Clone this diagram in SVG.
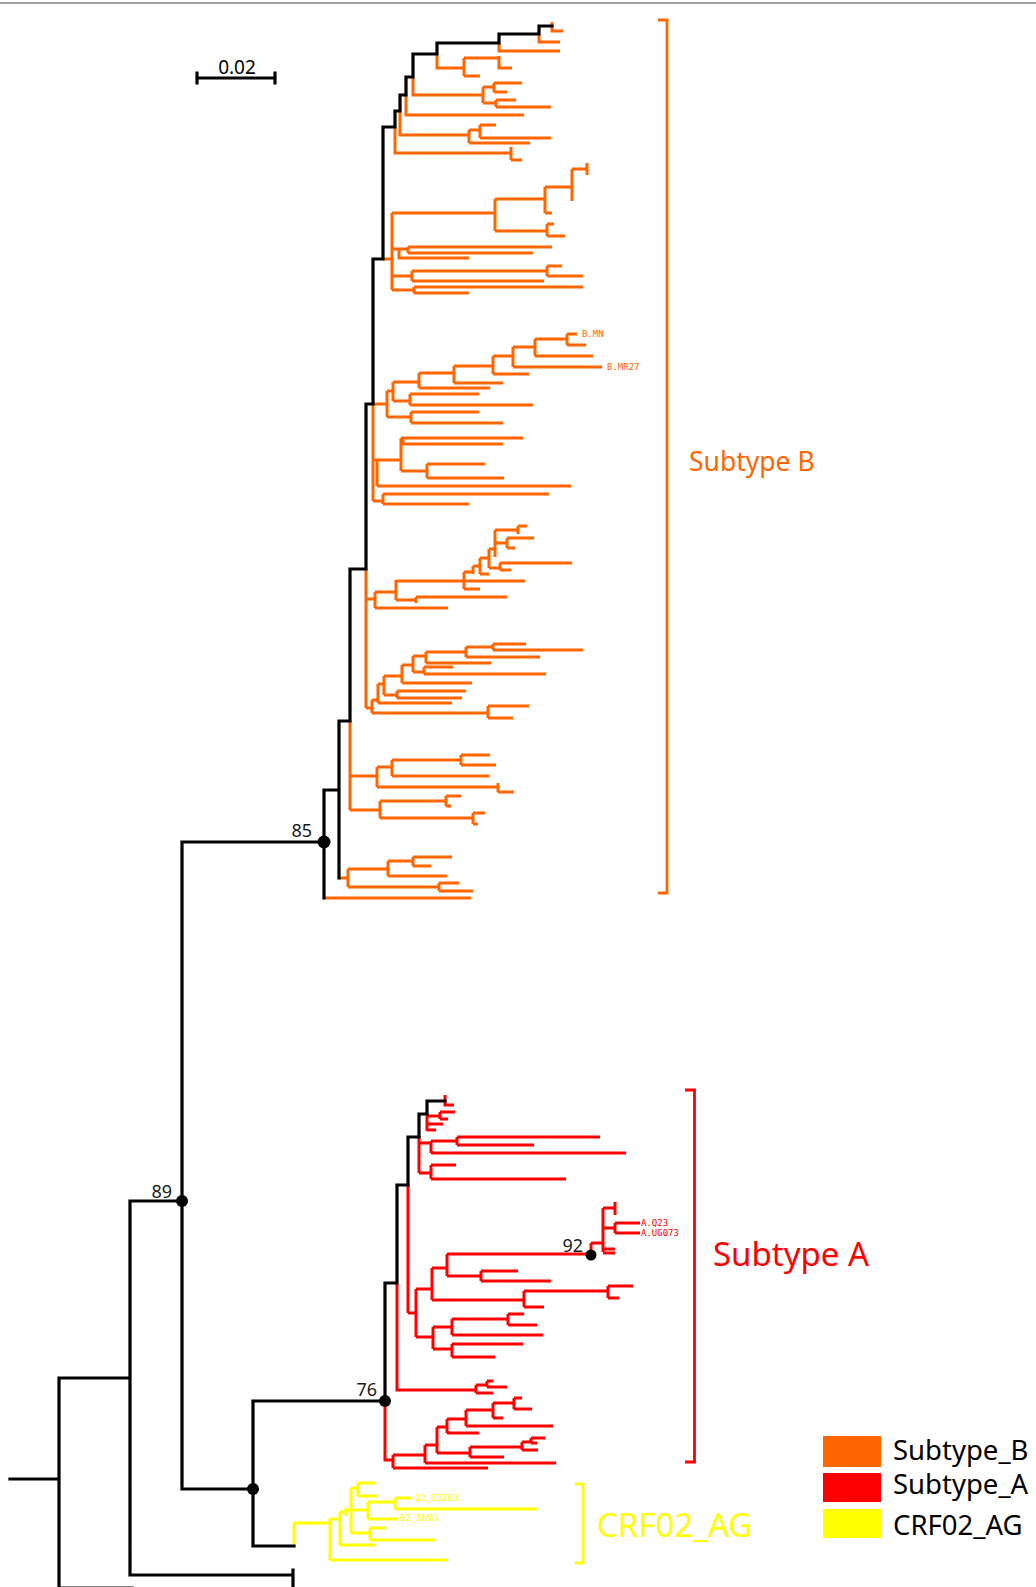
<svg xmlns="http://www.w3.org/2000/svg" width="1036" height="1587" viewBox="0 0 1036 1587">
<style>
.k{fill:none;stroke:#000;stroke-width:3.2;stroke-linecap:square}
.o{fill:none;stroke:#FF6600;stroke-width:3}
.r{fill:none;stroke:#FF0000;stroke-width:3}
.y{fill:none;stroke:#FFFF00;stroke-width:3}
.lab{font-family:"Noto Sans","Open Sans",sans-serif}
.tip{font-family:"DejaVu Sans Mono","Liberation Mono",monospace;font-size:9px}
.bs{font-family:"Noto Sans","Open Sans",sans-serif;font-size:18px;fill:#1a1a1a}
</style>
<rect width="1036" height="1587" fill="#fff"/>
<line x1="0" y1="3" x2="1036" y2="3" stroke="#808080" stroke-width="1.5"/>
<g id="scale">
<path class="k" d="M197,78 H275 M197,73 V83 M275,73 V83" stroke-linecap="butt"/>
<text x="237" y="74" text-anchor="middle" class="lab" font-size="19" fill="#000">0.02</text>
</g>
<g id="connectors">
<g id="subtypeB-branches">
<path class="o" d="M552,22 V31 H563 M539,34 V42 H560 M499,43 V51 H560 M437,54 V68 H464 M464,58 V76 M464,58 H499 M499,56 V68 H512 M464,76 H480 M413,77 V95 H483 M483,87 V103 M483,87 H494 M494,83 V92 M494,83 H522 M494,92 H507 M483,103 H496 M496,100 V107 M496,100 H516 M496,107 H551 M406,95 V115 H524 M400,111 V135 H469 M469,130 V143 M469,130 H480 M480,125 V138 M480,125 H496 M480,138 H551 M469,143 H530 M395,127 V153 H511 M511,147 V160 M511,160 H522"/>
<path class="o" d="M383,259 H392 M392,213 V290 M392,213 H495 M495,199 V231 M495,199 H545 M545,187 V213 M545,187 H572 M572,169 V201 M572,169 H587 M587,163 V175 M545,213 H552 M495,231 H547 M547,224 V236 M547,224 H554 M547,236 H565 M392,249 H399 M399,249 V258 H469 M399,249 H408 M408,247 V253 M408,247 H552 M408,253 H533 M392,276 H412 M412,271 V281 M412,271 H547 M547,266 V276 M547,266 H562 M547,276 H583 M412,281 H544 M392,290 H414 M414,287 V293 M414,287 H583 M414,293 H469"/>
<path class="o" d="M373,404 V501 M373,404 H387 M387,391 V417 M387,391 H393 M393,382 V401 M393,382 H419 M419,373 V388 M419,373 H454 M454,366 V383 M454,366 H493 M493,356 V374 M493,356 H513 M513,347 V367 M513,347 H535 M535,339 V356 M535,339 H567 M567,334 V345 M567,334 H577 M567,345 H586 M535,356 H593 M513,367 H602 M493,374 H529 M454,383 H503 M419,388 H490 M393,401 H410 M410,394 V405 M410,394 H479 M410,405 H533 M387,417 H411 M411,412 V423 M411,412 H479 M411,423 H503 M373,460 H377 M377,460 V486 M377,460 H401 M401,438 V471 M401,438 H523 M403,438 V444 H503 M401,471 H427 M427,464 V478 M427,464 H485 M427,478 H504 M377,486 H571 M373,501 H383 M383,494 V504 M383,494 H549 M383,504 H469"/>
<path class="o" d="M366,569 V708 M366,599 H375 M375,592 V608 M375,592 H396 M396,580 V600 M396,581 H525 M464,572 V589 M464,572 H473 M473,566 V574 M473,566 H480 M480,558 V574 M480,574 H489 M480,558 H489 M489,549 V568 M489,549 H495 M495,530 V557 M495,530 H518 M518,526 V534 M518,526 H527 M495,543 H507 M507,538 V548 M507,538 H534 M507,548 H515 M489,568 H500 M500,563 V570 M500,563 H572 M500,570 H511 M464,589 H480 M396,600 H416 M416,597 V603 M416,597 H507 M375,608 H448 M366,708 H372 M372,700 V713 M372,700 H378 M378,684 V703 M378,684 H384 M384,676 V695 M384,676 H402 M402,665 V683 M402,665 H413 M413,656 V672 M413,656 H426 M426,652 V663 M426,652 H466 M466,647 V657 M466,647 H493 M493,644 V650 M493,644 H526 M493,650 H583 M466,657 H540 M426,663 H491 M413,672 H424 M424,667 V674 M424,667 H453 M424,674 H546 M402,683 H472 M384,695 H397 M397,691 V698 M397,691 H466 M397,698 H462 M378,703 H452 M372,713 H488 M488,706 V718 M488,706 H529 M488,718 H513"/>
<path class="o" d="M350,721 V810 M350,776 H377 M377,767 V787 M377,767 H392 M392,760 V776 M392,760 H461 M461,755 V765 M461,755 H490 M461,765 H496 M392,776 H489 M377,787 H498 M498,783 V792 M498,792 H514 M350,810 H380 M380,801 V818 M380,801 H446 M446,796 V806 M446,796 H461 M446,806 H451 M380,818 H473 M473,813 V824 M473,813 H485 M473,824 H478 M339,878 H348 M348,869 V887 M348,869 H388 M388,861 V876 M388,861 H413 M413,857 V866 M413,857 H452 M413,866 H431 M388,876 H447 M348,887 H439 M439,883 V891 M439,883 H459 M439,891 H473 M324,898 H471"/>
</g>
<g id="subtypeA-branches">
<path class="r" d="M445,1095 V1105 H454 M427,1113 V1131 M427,1116 H440 M440,1112 V1119 M440,1112 H455 M440,1119 H448 M427,1124 H443 M427,1130 H436 M419,1136 V1173 M419,1143 H431 M431,1141 V1153 M431,1141 H457 M457,1137 V1145 M457,1137 H600 M457,1145 H534 M431,1153 H626 M419,1173 H431 M431,1165 V1179 M431,1165 H456 M431,1179 H566 M408,1184 V1313 M408,1313 H416 M416,1289 V1337 M416,1289 H432 M432,1268 V1300 M432,1268 H447 M447,1254 V1276 M447,1254 H591 M591,1243 V1260 M591,1243 H603 M603,1208 V1252 M603,1208 H615 M615,1202 V1215 M603,1228 H615 M615,1223 V1233 M615,1223 H640 M615,1233 H640 M603,1249 H615 M603,1253 H615 M447,1276 H481 M481,1271 V1281 M481,1271 H518 M481,1281 H551 M432,1300 H524 M524,1291 V1307 M524,1291 H608 M608,1286 V1298 M608,1286 H633 M608,1298 H619 M524,1307 H544 M416,1337 H433 M433,1327 V1349 M433,1327 H452 M452,1319 V1335 M452,1319 H508 M508,1314 V1325 M508,1314 H524 M508,1325 H537 M452,1335 H543 M433,1349 H452 M452,1344 V1357 M452,1344 H523 M452,1357 H495 M397,1284 V1390 H476 M476,1385 V1393 M476,1385 H487 M487,1381 V1387 M487,1381 H493 M487,1387 H507 M476,1393 H493"/>
<path class="r" d="M385,1401 V1460 H393 M393,1455 V1468 M393,1455 H425 M425,1445 V1463 M425,1445 H437 M437,1427 V1453 M437,1427 H447 M447,1419 V1433 M447,1419 H466 M466,1410 V1426 M466,1410 H493 M493,1403 V1418 M493,1403 H514 M514,1398 V1409 M514,1398 H522 M514,1409 H532 M493,1418 H503 M466,1426 H553 M447,1433 H479 M437,1453 H470 M470,1447 V1457 M470,1447 H522 M522,1442 V1450 M522,1442 H531 M531,1438 V1443 M531,1438 H545 M531,1443 H537 M522,1450 H538 M470,1457 H504 M425,1463 H556 M393,1468 H488"/>
</g>
<g id="crf02-branches">
<path class="y" d="M294,1523 V1546 M294,1523 H330 M330,1519 V1560 M330,1560 H447 M330,1519 H340 M340,1512 V1545 M340,1545 H375 M340,1512 H346 M346,1508 V1516 M346,1510 H351 M351,1488 V1533 M351,1488 H358 M358,1483 V1496 M358,1483 H375 M358,1496 H377 M351,1510 H368 M368,1502 V1519 M368,1502 H395 M395,1498 V1509 M395,1498 H411 M395,1509 H537 M368,1519 H398 M351,1533 H370 M370,1528 V1540 M370,1528 H386 M370,1540 H435"/>
</g>
<g id="backbone">
<path class="k" d="M552,26 H539 V34 H499 V43 H437 V54 H413 V77 H406 V95 H400 V111 H395 V127 H383 V259 H373 V404 H366 V569 H350 V721 H339 V878 M339,790 H324 M324,790 V898 M182,842 H324 M182,842 V1489 H253 M130,1201 H182 M130,1201 V1575 H293 M293,1570 V1592 M59,1378 H130 M59,1378 V1592 M10,1479 H59 M59,1588 H132 M253,1401 V1546 H294 M253,1401 H385 M385,1283 V1401 M385,1283 H397 V1185 H408 V1137 H419 V1114 H427 V1101 H445"/>
</g>
</g>
<g id="nodes-support">
<circle cx="324" cy="842" r="6.5"/>
<circle cx="182" cy="1201" r="6"/>
<circle cx="253" cy="1489" r="6"/>
<circle cx="385" cy="1401" r="6"/>
<circle cx="591" cy="1255" r="5.5"/>
<text x="312" y="837" text-anchor="end" class="bs">85</text>
<text x="172" y="1198" text-anchor="end" class="bs">89</text>
<text x="377" y="1396" text-anchor="end" class="bs">76</text>
<text x="583" y="1252" text-anchor="end" class="bs">92</text>
</g>
<g id="tip-labels">
<text x="582" y="337" class="tip" fill="#FF6600">B.MN</text>
<text x="607" y="370" class="tip" fill="#FF6600">B.MR27</text>
<text x="641" y="1226" class="tip" fill="#FF0000">A.Q23</text>
<text x="641" y="1236" class="tip" fill="#FF0000">A.UG073</text>
<text x="415" y="1501" class="tip" fill="#FFFF00">02_DJ263</text>
<text x="400" y="1521" class="tip" fill="#FFFF00">02_IbNG</text>
</g>
<g id="clade-B">
<path d="M658,20 H667 V893 H658" fill="none" stroke="#FF6600" stroke-width="2.8"/>
<text x="689" y="471" class="lab" font-size="26.5" fill="#FF6600">Subtype B</text>
</g>
<g id="clade-A">
<path d="M685,1090 H694.5 V1462 H685" fill="none" stroke="#FF0000" stroke-width="2.8"/>
<text x="713" y="1266" class="lab" font-size="33" fill="#FF0000">Subtype A</text>
</g>
<g id="clade-CRF02">
<path d="M575,1484 H583 V1563 H575" fill="none" stroke="#FFFF00" stroke-width="2.8"/>
<text x="597" y="1537" class="lab" font-size="33" fill="#FFFF00">CRF02_AG</text>
</g>
<g id="legend">
<rect x="823" y="1436" width="58" height="31" fill="#FF6600"/>
<rect x="823" y="1473" width="58" height="29" fill="#FF0000"/>
<rect x="823" y="1509" width="58" height="29" fill="#FFFF00"/>
<text x="893" y="1460" class="lab" font-size="27.5" fill="#000">Subtype_B</text>
<text x="893" y="1494" class="lab" font-size="27.5" fill="#000">Subtype_A</text>
<text x="893" y="1535" class="lab" font-size="27.5" fill="#000">CRF02_AG</text>
</g>
</svg>
